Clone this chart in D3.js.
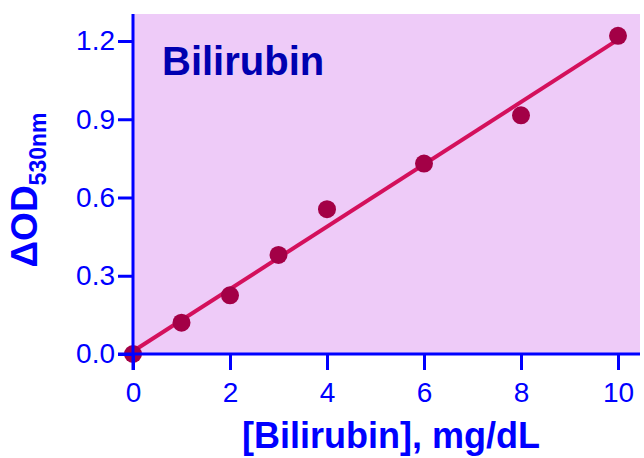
<!DOCTYPE html>
<html>
<head>
<meta charset="utf-8">
<script src="https://cdn.jsdelivr.net/npm/d3@7"></script>
<style>
  body { margin: 0; background: #fff; }
  text { font-family: "Liberation Sans", Arial, sans-serif; }
</style>
</head>
<body>
<div id="chart"></div>
<script>
// data
const conc = [0, 1, 2, 3, 4, 6, 8, 10]
const od = [0, 0.12, 0.225, 0.38, 0.555, 0.73, 0.915, 1.22]
const xTicks = [0, 2, 4, 6, 8, 10]
const yTicks = [0, 0.3, 0.6, 0.9, 1.2]

const W = 644, H = 458
const blue = "#0000ff"

const svg = d3.select("#chart").append("svg")
    .attr("width", W)
    .attr("height", H)

const x = d3.scaleLinear().domain([0, 10]).range([133, 618])
const y = d3.scaleLinear().domain([0, 1.2]).range([354, 41])

// plot background
svg.append("rect")
    .attr("x", x(0)).attr("y", 14)
    .attr("width", 640 - x(0)).attr("height", y(0) - 14)
    .attr("fill", "#eecbf8")

// least squares line
const mx = d3.mean(conc), my = d3.mean(od)
const slope = d3.sum(conc, (d, i) => (d - mx) * (od[i] - my)) / d3.sum(conc, d => (d - mx) * (d - mx))
const icpt = my - slope * mx

svg.append("line")
    .attr("x1", x(0)).attr("y1", y(icpt))
    .attr("x2", x(10)).attr("y2", y(icpt + slope * 10))
    .attr("stroke", "#d4105c")
    .attr("stroke-width", 4)

svg.selectAll(".dot")
    .data(conc)
    .enter().append("circle")
    .attr("class", "dot")
    .attr("cx", d => x(d))
    .attr("cy", (d, i) => y(od[i]))
    .attr("r", 9)
    .attr("fill", "#a30046")

// axes
const xAxis = svg.append("g")
    .attr("transform", "translate(0," + y(0) + ")")
    .call(d3.axisBottom(x).tickValues(xTicks).tickSize(16).tickPadding(12).tickFormat(d3.format("d")))
const yAxis = svg.append("g")
    .attr("transform", "translate(" + x(0) + ",0)")
    .call(d3.axisLeft(y).tickValues(yTicks).tickSize(15).tickPadding(3).tickFormat(d3.format(".1f")))

xAxis.select(".domain").attr("d", "M" + (x(0) - 15) + ",0H640")
yAxis.select(".domain").attr("d", "M0,14V" + (y(0) + 16))

svg.selectAll(".domain, .tick line")
    .attr("stroke", blue)
    .attr("stroke-width", 3)
svg.selectAll("g.tick text")
    .attr("fill", blue)
    .style("font-size", "28px")
    .style("font-family", "Liberation Sans, Arial, sans-serif")

// titles
svg.append("text")
    .attr("x", 162).attr("y", 75)
    .attr("fill", "#0000b0")
    .attr("font-size", 40)
    .attr("font-weight", "bold")
    .text("Bilirubin")

svg.append("text")
    .attr("x", 391).attr("y", 448)
    .attr("text-anchor", "middle")
    .attr("fill", blue)
    .attr("font-size", 36)
    .attr("font-weight", "bold")
    .text("[Bilirubin], mg/dL")

const yl = svg.append("text")
    .attr("transform", "translate(37,190) rotate(-90)")
    .attr("text-anchor", "middle")
    .attr("fill", blue)
    .attr("font-weight", "bold")
yl.append("tspan").attr("font-size", 37).text("ΔOD")
yl.append("tspan").attr("font-size", 23).attr("dy", 9).text("530nm")
</script>
</body>
</html>
